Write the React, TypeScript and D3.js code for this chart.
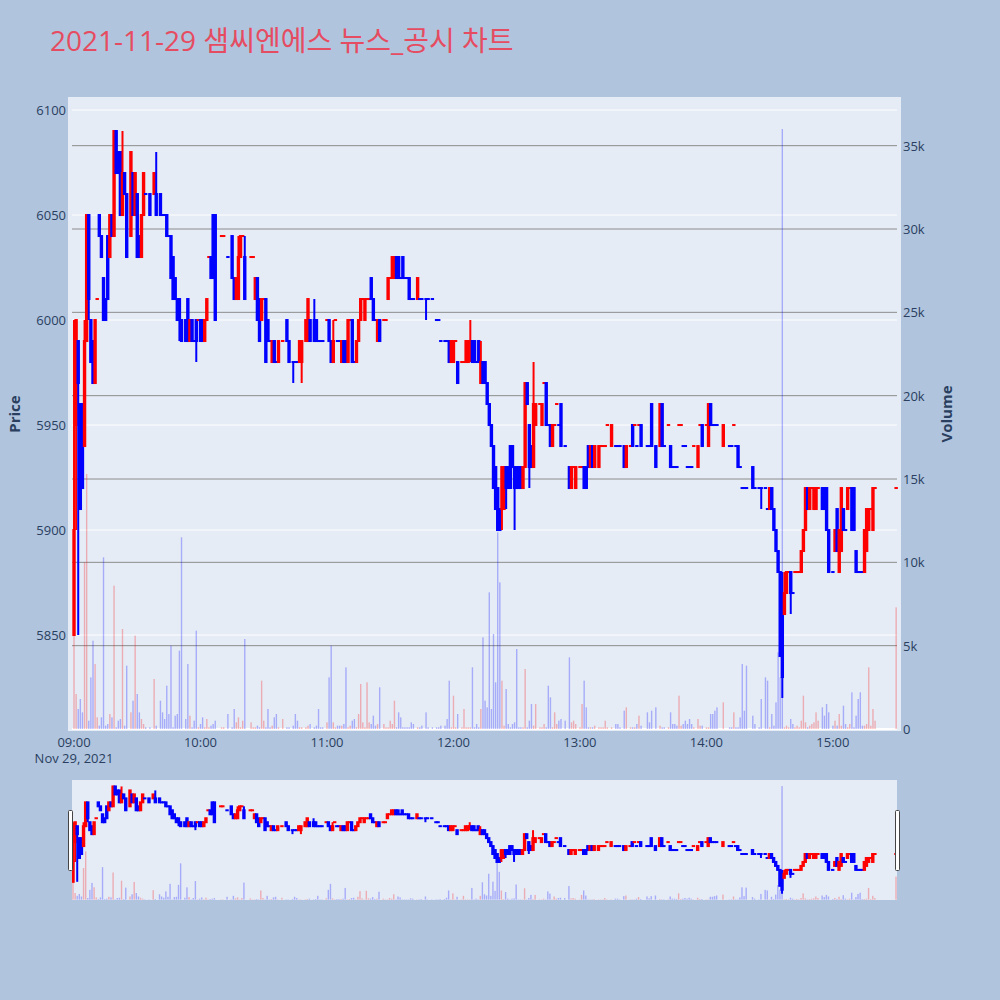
import React from "react";
import * as d3 from "d3";

// 2021-11-29 intraday 1-minute bars (KRW) with traded volume (shares)
const CHART_TITLE = "2021-11-29 샘씨엔에스 뉴스_공시 차트";
const TRADE_DAY = { year: 2021, month: 10, day: 29 };

const TIMES = [
  "09:00","09:01","09:02","09:03","09:04","09:05","09:06","09:07","09:08","09:09","09:10","09:11","09:12","09:13","09:14","09:15","09:16","09:17","09:18","09:19","09:20","09:21","09:22","09:23","09:24","09:25",
  "09:27","09:28","09:29","09:30","09:31","09:32","09:33","09:34",
  "09:36","09:38","09:39",
  "09:41","09:42","09:43","09:44","09:45","09:46","09:47","09:48","09:49","09:50","09:51",
  "09:53","09:54","09:55","09:56","09:57","09:58","09:59",
  "10:00","10:01","10:02","10:03","10:04","10:05","10:06","10:07",
  "10:10","10:11","10:13",
  "10:15","10:16","10:17","10:18","10:19","10:20","10:21",
  "10:24","10:25","10:26","10:27","10:28","10:29","10:30","10:31","10:32","10:33","10:34","10:35","10:36","10:37",
  "10:39","10:41","10:42",
  "10:44","10:45","10:46","10:47","10:48",
  "10:50","10:51","10:52",
  "10:54","10:55","10:56","10:57","10:58",
  "11:00","11:01","11:02","11:03","11:04","11:05","11:06","11:07","11:08","11:09","11:10","11:11","11:12","11:13","11:14","11:15","11:16","11:17","11:18","11:19","11:20","11:21","11:22","11:23","11:24","11:25",
  "11:27","11:28","11:29","11:30","11:31","11:32","11:33","11:34","11:35","11:36","11:37","11:38","11:39","11:40","11:41",
  "11:43","11:44","11:45","11:47","11:48","11:50","11:52","11:53","11:54","11:56","11:57","11:58","11:59",
  "12:00","12:01","12:02",
  "12:04","12:05","12:06","12:07","12:08","12:09","12:10","12:11","12:12","12:13","12:14","12:15","12:16","12:17","12:18","12:19","12:20","12:21","12:22","12:23","12:24","12:25","12:26","12:27","12:28","12:29","12:30","12:31","12:32","12:33","12:34","12:35","12:36","12:37","12:38","12:39",
  "12:41","12:42","12:43","12:44","12:45","12:46","12:47","12:48","12:49","12:50","12:51",
  "12:53","12:55","12:56","12:57","12:58",
  "13:00","13:01","13:02","13:03","13:04","13:05","13:06","13:07",
  "13:09","13:10","13:11","13:12","13:13","13:15","13:17","13:18","13:19","13:21","13:22",
  "13:24","13:25","13:26","13:27","13:28","13:29","13:32","13:33","13:34","13:36","13:38","13:39","13:40",
  "13:42","13:43","13:44","13:45","13:46","13:47","13:48","13:49","13:50","13:51","13:52","13:53","13:54","13:56","13:57","13:58",
  "14:00","14:01","14:02","14:03","14:04","14:05","14:08",
  "14:11","14:12","14:13","14:14","14:15","14:16","14:17","14:18","14:19","14:22","14:23","14:25","14:26",
  "14:28","14:29","14:30","14:31","14:32","14:33","14:34","14:35","14:36","14:37","14:38","14:39","14:40","14:41","14:42","14:43","14:44","14:45","14:46","14:47","14:48","14:49","14:50","14:51","14:52","14:53",
  "14:55","14:56","14:57","14:58",
  "15:00","15:01","15:02","15:03","15:04","15:05","15:06","15:07","15:08","15:09","15:10","15:11","15:12","15:13","15:14","15:15","15:16","15:17","15:18","15:19","15:20","15:30",
];

const OPEN = [
  5850,5950,5990,5960,5960,5940,5990,6050,6000,5990,5970,6010,6050,6040,6020,6010,6040,6030,6050,6040,6090,6080,6080,6050,6070,6060, 6040,6070,6050,6060,6040,6030,6050,6060, 6060,6060,6060, 6060,6050,6050,6050,6040,6040,6030,6020,6010,6010,6000, 6000,6010,5990,6000,5990,6000,6000,
  6000,6000,5990,6000,6030,6030,6050,6050, 6040,6040,6030, 6040,6020,6010,6010,6030,6040,6030, 6030,6030,6010,6020,6010,6000,6010,6010,6000,5990,5980,5990,5980,5980, 5990,6000,5990, 5980,5980,5980,5980,5980, 5990,5990,6000, 6000,6000,5990,5990,5990,
  6000,6000,5990,5980,6000,5990,5990,5980,5990,5990,5980,6000,6000,5980,5980,5990,6000,6010,6000,6010,6010,6020,6010,6000,5990,6000, 6000,6000,6010,6020,6020,6020,6030,6030,6020,6030,6020,6020,6020,6010,6010, 6010,6010,6010, 6010,6010, 6010, 6000,6000,5990, 5990,5990,5990,5980,
  5980,5990,5980, 5980,5980,5980,5980,5990,5990,5990,5980,5990,5970,5980,5980,5970,5960,5950,5940,5930,5920,5910,5910,5910,5930,5930,5940,5940,5930,5930,5930,5930,5920,5930,5970,5950,5940,5930,5950, 5960,5950,5970,5970,5950,5950,5940,5950,5960,5950,5960, 5940, 5930,5920,5930,5920,
  5930,5930,5930,5930,5940,5930,5940,5930, 5930,5940,5940,5940,5950, 5940, 5940,5940,5940, 5940,5930, 5940,5950,5950,5940,5950,5950, 5940,5940,5960, 5940, 5940,5960,5940, 5950,5940,5930,5930,5930,5950,5950,5940,5940,5930,5930,5930,5940, 5930,5950,5950,
  5950,5940,5960,5950,5950,5950, 5940, 5940,5940,5950,5940,5940,5930,5920,5920,5920, 5930,5920, 5920,5920, 5920,5910,5910,5920,5910,5900,5890,5880,5870,5860,5870,5880,5880,5870,5880,5880,5880,5880,5890,5900,5920,5910,5920,5910,5910,5920, 5920,5920,5920,5900,
  5880,5890,5910,5880,5890,5910,5900,5910,5920,5920,5920,5890,5880,5880,5880,5880,5890,5900,5910,5900,5920, 5920,
];

const HIGH = [
  6000,6000,5990,5960,5960,6000,6050,6050,6000,5990,6000,6010,6050,6040,6020,6010,6040,6050,6050,6090,6090,6080,6080,6090,6070,6060, 6080,6070,6070,6060,6040,6050,6070,6060, 6060,6070,6080, 6060,6050,6050,6050,6040,6040,6030,6020,6010,6010,6000, 6000,6010,6000,6000,5990,6000,6000,
  6000,6000,6000,6010,6030,6030,6050,6050, 6040,6040,6030, 6040,6020,6020,6040,6040,6040,6040, 6030,6030,6020,6020,6010,6010,6010,6010,6000,5990,5990,5990,5980,5990, 5990,6000,5990, 5980,5980,5980,5990,5990, 6000,6010,6000, 6010,6000,5990,5990,5990,
  6000,6000,5990,6000,6000,5990,5990,5990,5990,5990,6000,6000,6000,5980,5990,6000,6010,6010,6010,6010,6010,6020,6010,6000,6000,6000, 6000,6000,6020,6020,6030,6030,6030,6030,6020,6030,6020,6020,6020,6010,6010, 6020,6010,6010, 6010,6010, 6010, 6000,6000,5990, 5990,5990,5990,5990,
  5990,5990,5980, 5980,5980,5990,5990,6000,5990,5990,5980,5990,5990,5980,5980,5970,5960,5950,5940,5930,5920,5910,5930,5930,5930,5930,5940,5940,5930,5930,5930,5930,5930,5970,5970,5950,5940,5980,5960, 5960,5960,5970,5970,5950,5950,5950,5950,5960,5950,5960, 5940, 5930,5930,5930,5930,
  5930,5930,5930,5930,5940,5940,5940,5940, 5940,5940,5940,5940,5950, 5950, 5940,5940,5940, 5940,5940, 5940,5950,5950,5940,5950,5950, 5940,5940,5960, 5940, 5960,5960,5940, 5950,5940,5930,5930,5930,5950,5950,5940,5940,5930,5930,5930,5940, 5940,5950,5950,
  5950,5960,5960,5950,5950,5950, 5950, 5940,5940,5950,5940,5940,5930,5920,5920,5920, 5930,5920, 5920,5920, 5920,5910,5920,5920,5910,5900,5890,5880,5880,5880,5880,5880,5880,5870,5880,5880,5880,5890,5900,5920,5920,5920,5920,5920,5920,5920, 5920,5920,5920,5900,
  5880,5900,5910,5900,5920,5910,5900,5920,5920,5920,5920,5890,5880,5880,5880,5900,5910,5910,5910,5920,5920, 5920,
];

const LOW = [
  5850,5900,5850,5910,5920,5940,5990,6000,5980,5970,5970,6010,6040,6030,6000,6000,6010,6030,6040,6040,6070,6070,6050,6050,6060,6030, 6040,6050,6050,6030,6030,6030,6050,6060, 6050,6060,6050, 6050,6050,6050,6040,6040,6020,6010,6010,6000,5990,5990, 5990,5990,5990,5990,5990,5980,6000,
  5990,5990,5990,6000,6030,6020,6020,6000, 6040,6040,6030, 6020,6010,6010,6010,6030,6040,6010, 6030,6030,6010,6000,5990,6000,6010,5980,5990,5990,5980,5980,5980,5980, 5990,5990,5980, 5970,5980,5980,5980,5970, 5990,5990,5990, 5990,5990,5990,5990,5990,
  6000,5990,5980,5980,6000,5990,5990,5980,5980,5980,5980,6000,5980,5980,5980,5990,6000,6010,6000,6010,6010,6010,6000,6000,5990,5990, 6000,6000,6010,6020,6020,6020,6020,6020,6020,6020,6020,6020,6010,6010,6010, 6010,6010,6010, 6000,6010, 6010, 6000,6000,5990, 5990,5990,5980,5980,
  5980,5990,5970, 5980,5980,5980,5980,5980,5980,5980,5980,5980,5970,5970,5970,5960,5950,5940,5920,5910,5900,5900,5900,5910,5910,5920,5920,5930,5900,5920,5920,5920,5920,5930,5960,5920,5930,5930,5950, 5960,5950,5970,5950,5950,5940,5940,5950,5960,5950,5940, 5940, 5920,5920,5930,5920,
  5930,5930,5920,5920,5930,5930,5930,5930, 5930,5940,5940,5940,5950, 5940, 5940,5940,5940, 5930,5930, 5940,5940,5950,5940,5950,5940, 5940,5940,5940, 5930, 5940,5940,5940, 5950,5930,5930,5930,5930,5950,5950,5940,5940,5930,5930,5930,5940, 5930,5950,5940,
  5950,5940,5950,5950,5950,5950, 5940, 5940,5940,5950,5940,5930,5930,5920,5920,5920, 5920,5920, 5920,5910, 5920,5910,5910,5910,5900,5890,5880,5840,5820,5860,5870,5880,5860,5870,5880,5880,5880,5880,5890,5900,5910,5910,5920,5910,5910,5920, 5910,5910,5900,5880,
  5880,5890,5890,5880,5890,5900,5900,5910,5920,5900,5900,5880,5880,5880,5880,5880,5890,5900,5910,5900,5920, 5920,
];

const CLOSE = [
  5900,6000,5970,5910,5920,5990,6050,6010,5980,5970,6000,6010,6040,6030,6000,6000,6010,6050,6040,6090,6070,6070,6050,6070,6060,6030, 6080,6050,6070,6030,6030,6050,6070,6060, 6050,6070,6050, 6050,6050,6050,6040,6040,6020,6010,6010,6000,6000,5990, 5990,5990,6000,5990,5990,5990,6000,
  5990,5990,6000,6010,6030,6020,6020,6000, 6040,6040,6030, 6020,6010,6020,6030,6040,6040,6010, 6030,6030,6020,6000,5990,6010,6010,5980,5990,5990,5990,5980,5980,5990, 5990,5990,5980, 5980,5980,5980,5990,5990, 6000,6010,5990, 5990,5990,5990,5990,5990,
  6000,5990,5980,5990,6000,5990,5990,5990,5980,5980,6000,6000,5980,5980,5990,6000,6010,6010,6010,6010,6010,6010,6000,6000,6000,5990, 6000,6000,6020,6020,6030,6030,6020,6020,6020,6020,6020,6020,6010,6010,6010, 6020,6010,6010, 6010,6010, 6010, 6000,6000,5990, 5990,5990,5980,5990,
  5990,5990,5970, 5980,5980,5990,5990,5990,5980,5980,5980,5980,5980,5970,5970,5960,5950,5940,5920,5910,5900,5900,5930,5930,5920,5920,5920,5930,5920,5920,5920,5920,5930,5970,5960,5930,5930,5960,5960, 5960,5960,5970,5950,5950,5940,5950,5950,5960,5950,5940, 5940, 5920,5930,5930,5930,
  5930,5930,5920,5920,5930,5940,5930,5940, 5940,5940,5940,5940,5950, 5950, 5940,5940,5940, 5930,5940, 5940,5940,5950,5940,5950,5940, 5940,5940,5940, 5930, 5960,5940,5940, 5950,5930,5930,5930,5930,5950,5950,5940,5940,5930,5930,5930,5940, 5940,5950,5940,
  5950,5960,5950,5950,5950,5950, 5950, 5940,5940,5950,5940,5930,5930,5920,5920,5920, 5920,5920, 5920,5920, 5920,5910,5920,5910,5900,5890,5880,5840,5830,5870,5880,5880,5870,5870,5880,5880,5880,5890,5900,5920,5910,5920,5920,5920,5920,5920, 5910,5910,5900,5880,
  5880,5900,5890,5900,5920,5900,5900,5920,5920,5900,5900,5880,5880,5880,5880,5900,5910,5910,5910,5920,5920, 5920,
];

const VOLUME = [
  5600,2100,1200,1800,1000,10000,15300,500,3100,5300,3900,700,200,700,10300,200,300,900,700,8600,100,500,600,6000,200,3800, 1000,1700,5600,2100,1000,600,300,100, 100,3000,200, 1700,1000,600,2600,900,5000,100,800,900,4700,11500, 600,3900,800,100,500,5900,100,
  300,700,100,600,100,200,300,500, 100,100,900, 100,1200,400,700,100,500,5400, 400,100,100,200,100,2900,500,100,1200,100,200,700,900,100, 600,100,100, 200,900,500,100,100, 100,200,300, 100,200,1200,100,100,
  400,3100,5000,400,100,200,200,200,300,3700,100,200,500,600,100,900,2700,400,100,2800,400,300,800,200,300,2500, 300,100,100,500,300,1700,100,1000,700,100,100,100,100,400,300, 100,100,200, 1000,100, 100, 100,100,200, 200,600,2900,100,
  2000,100,900, 100,1200,100,100,100,3700,100,300,100,1200,5500,1700,1300,8200,1200,5700,2800,11800,8800,2900,200,2400,300,100,300,400,4800,100,100,100,3600,100,500,1500,200,1500, 100,100,300,100,2600,1900,100,1000,300,500,600, 500, 4300,400,500,300,
  100,1500,2900,1300,100,100,100,200, 100,100,100,500,100, 100, 300,300,100, 1100,1300, 100,100,100,300,800,200, 1000,400,1100, 1300, 200,100,100, 100,1000,300,300,200,2000,200,300,500,300,600,300,100, 600,200,200,
  100,100,900,900,1100,1300, 1600, 100,100,1000,100,100,700,3900,1100,3800, 800,300, 100,1800, 3100,2900,100,900,200,1600,4600,3100,36000,100,200,100,600,300,100,200,100,500,2000,400,100,200,300,400,1000,500, 1300,800,1500,1000,
  200,500,200,900,200,1400,300,100,300,2200,100,800,1800,2200,200,200,300,3700,200,1200,500, 7300,
];

const PRICE_TICKS = [5850, 5900, 5950, 6000, 6050, 6100];
const VOLUME_TICKS = [0, 5000, 10000, 15000, 20000, 25000, 30000, 35000];

const INC = "#ff0000";
const DEC = "#0000ff";
const PAGE_BG = "#b0c4de";
const PLOT_BG = "#e5ecf6";
const INK = "#2a3f5f";
const FONT = "'Open Sans', 'Noto Sans CJK KR', sans-serif";

const MAIN = { left: 68, right: 901, top: 97, bottom: 731, gridLeft: 72, gridRight: 897 };
const SLIDER = { left: 72, right: 897, top: 780, bottom: 900 };
const BODY_W = 3.4;
const VOL_W = 1.4;

function at(hhmm: string) {
  const [h, m] = hhmm.split(":").map(Number);
  return new Date(TRADE_DAY.year, TRADE_DAY.month, TRADE_DAY.day, h, m, 0, 0);
}

type Bar = { t: Date; o: number; h: number; l: number; c: number; v: number; up: boolean };

function buildBars(): Bar[] {
  const n = Math.min(TIMES.length, OPEN.length, HIGH.length, LOW.length, CLOSE.length, VOLUME.length);
  const out: Bar[] = [];
  let prevClose: number | null = null;
  let prevUp = false;
  for (let i = 0; i < n; i++) {
    const o = OPEN[i], c = CLOSE[i];
    const h = Math.max(HIGH[i], o, c), l = Math.min(LOW[i], o, c);
    // flat bars take their colour from the move against the previous close
    let up: boolean;
    if (c > o) up = true;
    else if (c < o) up = false;
    else if (prevClose !== null && c > prevClose) up = true;
    else if (prevClose !== null && c < prevClose) up = false;
    else up = prevUp;
    out.push({ t: at(TIMES[i]), o, h, l, c, v: VOLUME[i], up });
    prevClose = c;
    prevUp = up;
  }
  return out;
}

function Series({ bars, x, y, yv }: { bars: Bar[]; x: any; y: any; yv: any }) {
  const base = yv(0);
  return (
    <g>
      <g>
        {bars.map((d, i) => (
          <rect
            key={"v" + i}
            x={x(d.t) - VOL_W / 2}
            y={yv(d.v)}
            width={VOL_W}
            height={Math.max(0, base - yv(d.v))}
            fill={d.up ? INC : DEC}
            fillOpacity={0.27}
          />
        ))}
      </g>
      <g>
        {bars.map((d, i) => {
          const cx = x(d.t);
          const col = d.up ? INC : DEC;
          const yo = y(d.o), yc = y(d.c);
          const top = Math.min(yo, yc), bot = Math.max(yo, yc);
          return (
            <g key={"c" + i}>
              <line x1={cx} x2={cx} y1={y(d.h)} y2={y(d.l)} stroke={col} strokeWidth={2} />
              <rect x={cx - BODY_W / 2} y={top - 1} width={BODY_W} height={bot - top + 2} fill={col} />
            </g>
          );
        })}
      </g>
    </g>
  );
}

export default function App() {
  const bars = buildBars();
  const open0 = at("09:00");

  const x = d3
    .scaleTime()
    .domain([d3.timeSecond.offset(open0, -171), d3.timeSecond.offset(open0, 23538)])
    .range([MAIN.left, MAIN.right]);
  const y = d3.scaleLinear().domain([5804.3, 6106.2]).range([MAIN.bottom, MAIN.top]);
  const yv = d3.scaleLinear().domain([-120, 37920]).range([MAIN.bottom, MAIN.top]);

  const xs = d3.scaleTime().domain([open0, at("15:30")]).range([SLIDER.left + 1, SLIDER.right - 1]);
  const ys = d3.scaleLinear().domain(y.domain()).range([SLIDER.bottom, SLIDER.top]);
  const yvs = d3.scaleLinear().domain(yv.domain()).range([SLIDER.bottom, SLIDER.top]);

  const hourTicks = x.ticks(d3.timeHour.every(1));
  const fmtTime = d3.timeFormat("%H:%M");
  const fmtVol = d3.format("~s");

  return (
    <div style={{ position: "absolute", left: 0, top: 0, width: 1000, height: 1000 }}>
      <svg width={1000} height={1000} style={{ display: "block", fontFamily: FONT }}>
        <defs>
          <clipPath id="main-clip">
            <rect x={MAIN.left} y={MAIN.top} width={MAIN.right - MAIN.left} height={MAIN.bottom - MAIN.top} />
          </clipPath>
          <clipPath id="slider-clip">
            <rect x={SLIDER.left} y={SLIDER.top} width={SLIDER.right - SLIDER.left} height={SLIDER.bottom - SLIDER.top} />
          </clipPath>
        </defs>
        <rect width={1000} height={1000} fill={PAGE_BG} />

        <text x={50} y={51} fontSize={28} fill="#e64c61">
          {CHART_TITLE}
        </text>

        {/* main plot */}
        <rect x={MAIN.left} y={MAIN.top} width={MAIN.right - MAIN.left} height={MAIN.bottom - MAIN.top} fill={PLOT_BG} />
        <g>
          {PRICE_TICKS.map((p) => (
            <line key={"pg" + p} x1={MAIN.gridLeft} x2={MAIN.gridRight} y1={y(p)} y2={y(p)} stroke="#ffffff" strokeWidth={1} />
          ))}
          {VOLUME_TICKS.filter((v) => v > 0).map((v) => (
            <line key={"vg" + v} x1={MAIN.gridLeft} x2={MAIN.gridRight} y1={yv(v)} y2={yv(v)} stroke="#8c8c8c" strokeWidth={1} />
          ))}
          <line x1={MAIN.gridLeft} x2={MAIN.gridRight} y1={yv(0)} y2={yv(0)} stroke="#ffffff" strokeWidth={2} />
        </g>
        <g clipPath="url(#main-clip)">
          <Series bars={bars} x={x} y={y} yv={yv} />
        </g>

        {/* price axis */}
        <g fontSize={13} fill={INK}>
          {PRICE_TICKS.map((p) => (
            <text key={"pl" + p} x={66} y={y(p)} textAnchor="end" dominantBaseline="central">
              {p}
            </text>
          ))}
        </g>
        {/* volume axis */}
        <g fontSize={13} fill={INK}>
          {VOLUME_TICKS.map((v) => (
            <text key={"vl" + v} x={903} y={yv(v)} textAnchor="start" dominantBaseline="central">
              {fmtVol(v)}
            </text>
          ))}
        </g>
        {/* time axis */}
        <g fontSize={13} fill={INK}>
          {hourTicks.map((t) => (
            <text key={"tl" + t.getTime()} x={x(t)} y={747} textAnchor="middle">
              {fmtTime(t)}
            </text>
          ))}
          <text x={x(open0)} y={763} textAnchor="middle">
            {d3.timeFormat("%b %-d, %Y")(open0)}
          </text>
        </g>

        <text transform="translate(14,414) rotate(-90)" textAnchor="middle" dominantBaseline="central" fontSize={15} fontWeight="bold" fill={INK}>
          Price
        </text>
        <text transform="translate(946,414) rotate(-90)" textAnchor="middle" dominantBaseline="central" fontSize={15} fontWeight="bold" fill={INK}>
          Volume
        </text>

        {/* range slider overview */}
        <rect x={SLIDER.left} y={SLIDER.top} width={SLIDER.right - SLIDER.left} height={SLIDER.bottom - SLIDER.top} fill={PLOT_BG} />
        <g clipPath="url(#slider-clip)">
          <Series bars={bars} x={xs} y={ys} yv={yvs} />
        </g>
        <rect x={68.5} y={810.5} width={4} height={60} rx={1} fill="#ffffff" stroke="#444444" strokeWidth={1} />
        <rect x={895.5} y={810.5} width={4} height={60} rx={1} fill="#ffffff" stroke="#444444" strokeWidth={1} />
      </svg>
    </div>
  );
}
